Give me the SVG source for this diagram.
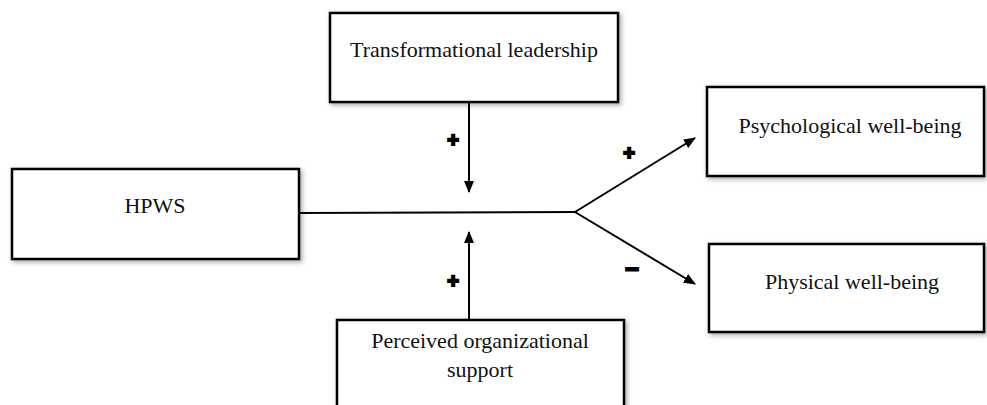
<svg xmlns="http://www.w3.org/2000/svg" width="987" height="405" viewBox="0 0 987 405">
  <style>
    .box { fill: #ffffff; stroke: #000000; stroke-width: 2.5; filter: url(#shadow); }
    .label { font-family: "Liberation Serif", "Times New Roman", serif; font-size: 22px; fill: #111111; text-anchor: middle; }
    .sign { font-family: "Liberation Sans", Arial, sans-serif; font-weight: bold; font-size: 20px; fill: #000000; stroke: #000000; stroke-width: 2; stroke-linejoin: miter; text-anchor: middle; }
    .edge { stroke: #000000; stroke-width: 2; fill: none; }
  </style>
  <defs>
    <filter id="shadow" x="-10%" y="-20%" width="125%" height="150%">
      <feDropShadow dx="2" dy="2" stdDeviation="2.5" flood-color="#000000" flood-opacity="0.35"/>
    </filter>
    <marker id="arrow" viewBox="0 0 12 10" refX="11" refY="5" markerWidth="12" markerHeight="10" markerUnits="userSpaceOnUse" orient="auto">
      <path d="M0,0 L12,5 L0,10 Z" fill="#000000"/>
    </marker>
  </defs>

  <rect width="987" height="405" fill="#ffffff"/>

  <g id="connectors">
    <line class="edge" x1="299" y1="213" x2="575" y2="212"/>
    <line class="edge" x1="575" y1="212" x2="695" y2="138" marker-end="url(#arrow)"/>
    <line class="edge" x1="575" y1="212" x2="695" y2="284" marker-end="url(#arrow)"/>
    <line class="edge" x1="469" y1="102" x2="469" y2="192" marker-end="url(#arrow)"/>
    <line class="edge" x1="469" y1="320" x2="469" y2="232" marker-end="url(#arrow)"/>
    <text class="sign" x="453" y="147">+</text>
    <text class="sign" x="629" y="160">+</text>
    <text class="sign" x="632" y="277" style="font-size:24px">−</text>
    <text class="sign" x="453" y="288">+</text>
  </g>

  <g id="transformational-leadership">
    <rect class="box" x="330" y="13" width="288" height="89"/>
    <text class="label" x="474" y="57">Transformational leadership</text>
  </g>

  <g id="hpws">
    <rect class="box" x="12" y="169" width="287" height="90"/>
    <text class="label" x="155" y="213">HPWS</text>
  </g>

  <g id="psychological-well-being">
    <rect class="box" x="707" y="87" width="277" height="89"/>
    <text class="label" x="850" y="133">Psychological well-being</text>
  </g>

  <g id="physical-well-being">
    <rect class="box" x="709" y="244" width="275" height="88"/>
    <text class="label" x="852" y="289">Physical well-being</text>
  </g>

  <g id="perceived-organizational-support">
    <rect class="box" x="337" y="320" width="287" height="100"/>
    <text class="label" x="480" y="348">Perceived organizational</text>
    <text class="label" x="480" y="377">support</text>
  </g>
</svg>
